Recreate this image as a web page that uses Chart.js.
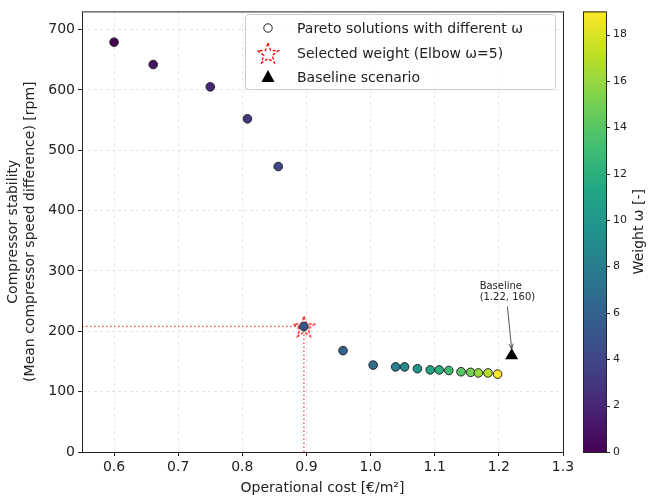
<!DOCTYPE html>
<html>
<head>
<meta charset="utf-8">
<script src="https://cdn.jsdelivr.net/npm/chart.js@4.4.0/dist/chart.umd.min.js"></script>
<style>
  html, body { margin: 0; padding: 0; background: #fff; }
</style>
</head>
<body>
<canvas id="chart" width="651" height="500"></canvas>
<script>
// valeurs
const omega = [0, 1, 2, 3, 4, 5, 6, 7, 8, 9, 10, 11, 12, 13, 14, 15, 16, 17, 19];
const cost = [0.600, 0.661, 0.750, 0.808, 0.856, 0.896, 0.957, 1.004, 1.039, 1.053, 1.073, 1.093, 1.107, 1.122, 1.141, 1.156, 1.168, 1.183, 1.198];
const stability = [679, 642, 605, 552, 473, 208, 168, 144, 141, 141, 138, 136, 136, 135, 133, 132, 131, 131, 129];
const selectedIndex = 5;
const baselineCost = [1.22];
const baselineStability = [160];
const xTicks = [0.6, 0.7, 0.8, 0.9, 1.0, 1.1, 1.2, 1.3];
const yTicks = [0, 100, 200, 300, 400, 500, 600, 700];
const cbTicks = [0, 2, 4, 6, 8, 10, 12, 14, 16, 18];
const cbMin = 0, cbMax = 19;
const xMin = 0.55, xMax = 1.3, yMin = 0, yMax = 730;
const legendLabels = ['Pareto solutions with different \u03C9', 'Selected weight (Elbow \u03C9=5)', 'Baseline scenario'];
const annotationLines = ['Baseline', '(1.22, 160)'];

const FONT = '"DejaVu Sans", "Liberation Sans", sans-serif';
const TEXT = '#222';

// colormap viridis
const VIRIDIS = ['#440154', '#482475', '#414487', '#355f8d', '#2a788e', '#21918c', '#22a884', '#44bf70', '#7ad151', '#bddf26', '#fde725'];
function hexToRgb(h) {
    return [parseInt(h.substr(1, 2), 16), parseInt(h.substr(3, 2), 16), parseInt(h.substr(5, 2), 16)];
}
function viridis(t) {
    t = Math.min(1, Math.max(0, t));
    let s = t * 10;
    let i = Math.min(9, Math.floor(s));
    let f = s - i;
    let a = hexToRgb(VIRIDIS[i]), b = hexToRgb(VIRIDIS[i + 1]);
    let c = a.map((v, k) => Math.round(v + (b[k] - v) * f));
    return 'rgb(' + c.join(',') + ')';
}

function starImage(R) {
    let size = Math.ceil(R * 2 + 4);
    let c = document.createElement('canvas');
    c.width = size; c.height = size;
    let ctx = c.getContext('2d');
    ctx.strokeStyle = '#ff0000';
    ctx.lineWidth = 1.3;
    ctx.setLineDash([3, 2]);
    ctx.beginPath();
    for (let k = 0; k < 10; k++) {
        let r = k % 2 ? R * 0.40 : R;
        let a = -Math.PI / 2 + k * Math.PI / 5;
        let x = size / 2 + r * Math.cos(a), y = size / 2 + 1 + r * Math.sin(a);
        if (k == 0) ctx.moveTo(x, y); else ctx.lineTo(x, y);
    }
    ctx.closePath();
    ctx.stroke();
    return c;
}
const star = starImage(11);

const paretoPoints = cost.map((c, i) => ({x: c, y: stability[i]}));
const pointColors = omega.map(w => viridis((w - cbMin) / (cbMax - cbMin)));
const selX = cost[selectedIndex], selY = stability[selectedIndex];

const decorations = {
    id: 'decorations',
    afterDraw(chart) {
        const ctx = chart.ctx;
        const a = chart.chartArea;
        const xs = chart.scales.x, ys = chart.scales.y;
        ctx.save();

        // cadre
        ctx.strokeStyle = '#222';
        ctx.lineWidth = 1;
        ctx.setLineDash([]);
        ctx.strokeRect(a.left + 0.5, a.top + 0.5, a.right - a.left, a.bottom - a.top);

        // annotation baseline
        ctx.font = '10px ' + FONT;
        ctx.fillStyle = TEXT;
        ctx.textBaseline = 'middle';
        ctx.textAlign = 'left';
        let tx = xs.getPixelForValue(1.17), ty = ys.getPixelForValue(256);
        ctx.fillText(annotationLines[0], tx, ty - 11);
        ctx.fillText(annotationLines[1], tx, ty);
        let w = ctx.measureText(annotationLines[1]).width;
        let x0 = tx + w / 2, y0 = ty + 9;
        let x1 = xs.getPixelForValue(baselineCost[0]), y1 = ys.getPixelForValue(baselineStability[0]) - 6;
        ctx.strokeStyle = '#444';
        ctx.lineWidth = 0.9;
        ctx.beginPath();
        ctx.moveTo(x0, y0);
        ctx.lineTo(x1, y1);
        let ang = Math.atan2(y1 - y0, x1 - x0);
        ctx.moveTo(x1, y1);
        ctx.lineTo(x1 - 6 * Math.cos(ang - 0.35), y1 - 6 * Math.sin(ang - 0.35));
        ctx.moveTo(x1, y1);
        ctx.lineTo(x1 - 6 * Math.cos(ang + 0.35), y1 - 6 * Math.sin(ang + 0.35));
        ctx.stroke();

        // légende
        let lx = 245, ly = 14, lw = 310, lh = 75;
        ctx.fillStyle = 'rgba(255,255,255,0.85)';
        ctx.strokeStyle = '#cccccc';
        ctx.lineWidth = 1;
        ctx.beginPath();
        ctx.roundRect(lx + 0.5, ly + 0.5, lw, lh, 3);
        ctx.fill();
        ctx.stroke();
        let rows = [28, 53, 77];
        let mx = 268;
        ctx.beginPath();
        ctx.arc(mx, rows[0], 4.2, 0, Math.PI * 2);
        ctx.fillStyle = '#fff';
        ctx.fill();
        ctx.strokeStyle = '#222';
        ctx.stroke();
        ctx.drawImage(star, mx - star.width / 2, rows[1] - star.height / 2);
        ctx.fillStyle = '#000';
        ctx.beginPath();
        ctx.moveTo(mx, rows[2] - 7);
        ctx.lineTo(mx + 6.5, rows[2] + 5);
        ctx.lineTo(mx - 6.5, rows[2] + 5);
        ctx.closePath();
        ctx.fill();
        ctx.font = '14px ' + FONT;
        ctx.fillStyle = TEXT;
        ctx.textAlign = 'left';
        legendLabels.forEach((t, i) => ctx.fillText(t, 297, rows[i] + 1));

        // barre de couleur
        let cx0 = 583, cx1 = 606;
        let grad = ctx.createLinearGradient(0, a.bottom, 0, a.top);
        VIRIDIS.forEach((c, i) => grad.addColorStop(i / 10, c));
        ctx.fillStyle = grad;
        ctx.fillRect(cx0, a.top, cx1 - cx0, a.bottom - a.top);
        ctx.strokeStyle = '#222';
        ctx.strokeRect(cx0 + 0.5, a.top + 0.5, cx1 - cx0, a.bottom - a.top);
        ctx.font = '11px ' + FONT;
        ctx.fillStyle = TEXT;
        ctx.textAlign = 'left';
        ctx.textBaseline = 'middle';
        ctx.beginPath();
        cbTicks.forEach(v => {
            let y = a.bottom - (v - cbMin) / (cbMax - cbMin) * (a.bottom - a.top);
            ctx.moveTo(cx1, Math.round(y) + 0.5);
            ctx.lineTo(cx1 + 4, Math.round(y) + 0.5);
            ctx.fillText(String(v), cx1 + 7, y);
        });
        ctx.stroke();
        ctx.save();
        ctx.translate(639, (a.top + a.bottom) / 2);
        ctx.rotate(-Math.PI / 2);
        ctx.font = '14px ' + FONT;
        ctx.textAlign = 'center';
        ctx.fillText('Weight \u03C9 [-]', 0, 0);
        ctx.restore();

        ctx.restore();
    }
};

new Chart(document.getElementById('chart'), {
    type: 'scatter',
    data: {
        datasets: [
            {
                label: 'sel-h',
                data: [{x: xMin, y: selY}, {x: selX, y: selY}],
                showLine: true,
                borderColor: 'rgba(255,0,0,0.75)',
                borderWidth: 1.3,
                borderDash: [1.5, 2.5],
                pointRadius: 0,
                order: 5
            },
            {
                label: 'sel-v',
                data: [{x: selX, y: yMin}, {x: selX, y: selY}],
                showLine: true,
                borderColor: 'rgba(255,0,0,0.75)',
                borderWidth: 1.3,
                borderDash: [1.5, 2.5],
                pointRadius: 0,
                order: 5
            },
            {
                label: legendLabels[1],
                data: [{x: selX, y: selY}],
                pointStyle: star,
                order: 3
            },
            {
                label: legendLabels[0],
                data: paretoPoints,
                pointRadius: 4.3,
                pointBackgroundColor: pointColors,
                pointBorderColor: '#222',
                pointBorderWidth: 1,
                order: 1
            },
            {
                label: legendLabels[2],
                data: baselineCost.map((c, i) => ({x: c, y: baselineStability[i]})),
                pointStyle: 'triangle',
                pointRadius: 7.5,
                pointBackgroundColor: '#000',
                pointBorderColor: '#000',
                pointBorderWidth: 0,
                order: 2
            }
        ]
    },
    options: {
        responsive: false,
        animation: false,
        layout: {padding: {top: 8, right: 88, left: 0, bottom: 0}},
        plugins: {
            legend: {display: false},
            tooltip: {enabled: false}
        },
        scales: {
            x: {
                type: 'linear',
                min: xMin,
                max: xMax,
                afterBuildTicks: s => { s.ticks = xTicks.map(v => ({value: v})); },
                afterFit: s => { s.height = 48; },
                ticks: {
                    callback: v => v.toFixed(1),
                    color: TEXT,
                    font: {family: FONT, size: 14},
                    padding: 3,
                    maxRotation: 0
                },
                grid: {color: '#dddddd', lineWidth: 0.8, tickColor: '#222', tickLength: 4, tickWidth: 1},
                border: {display: false, dash: [3, 3]},
                title: {
                    display: true,
                    text: 'Operational cost [\u20AC/m\u00B2]',
                    color: TEXT,
                    font: {family: FONT, size: 14},
                    padding: {top: 0, bottom: 3}
                }
            },
            y: {
                type: 'linear',
                min: yMin,
                max: yMax,
                afterBuildTicks: s => { s.ticks = yTicks.map(v => ({value: v})); },
                afterFit: s => { s.width = 82; },
                ticks: {
                    color: TEXT,
                    font: {family: FONT, size: 14},
                    padding: 3
                },
                grid: {color: '#dddddd', lineWidth: 0.8, tickColor: '#222', tickLength: 4, tickWidth: 1},
                border: {display: false, dash: [3, 3]},
                title: {
                    display: true,
                    text: ['Compressor stability', '(Mean compressor speed difference) [rpm]'],
                    color: TEXT,
                    font: {family: FONT, size: 14},
                    padding: {top: 5, bottom: 0}
                }
            }
        }
    },
    plugins: [decorations]
});
</script>
</body>
</html>
